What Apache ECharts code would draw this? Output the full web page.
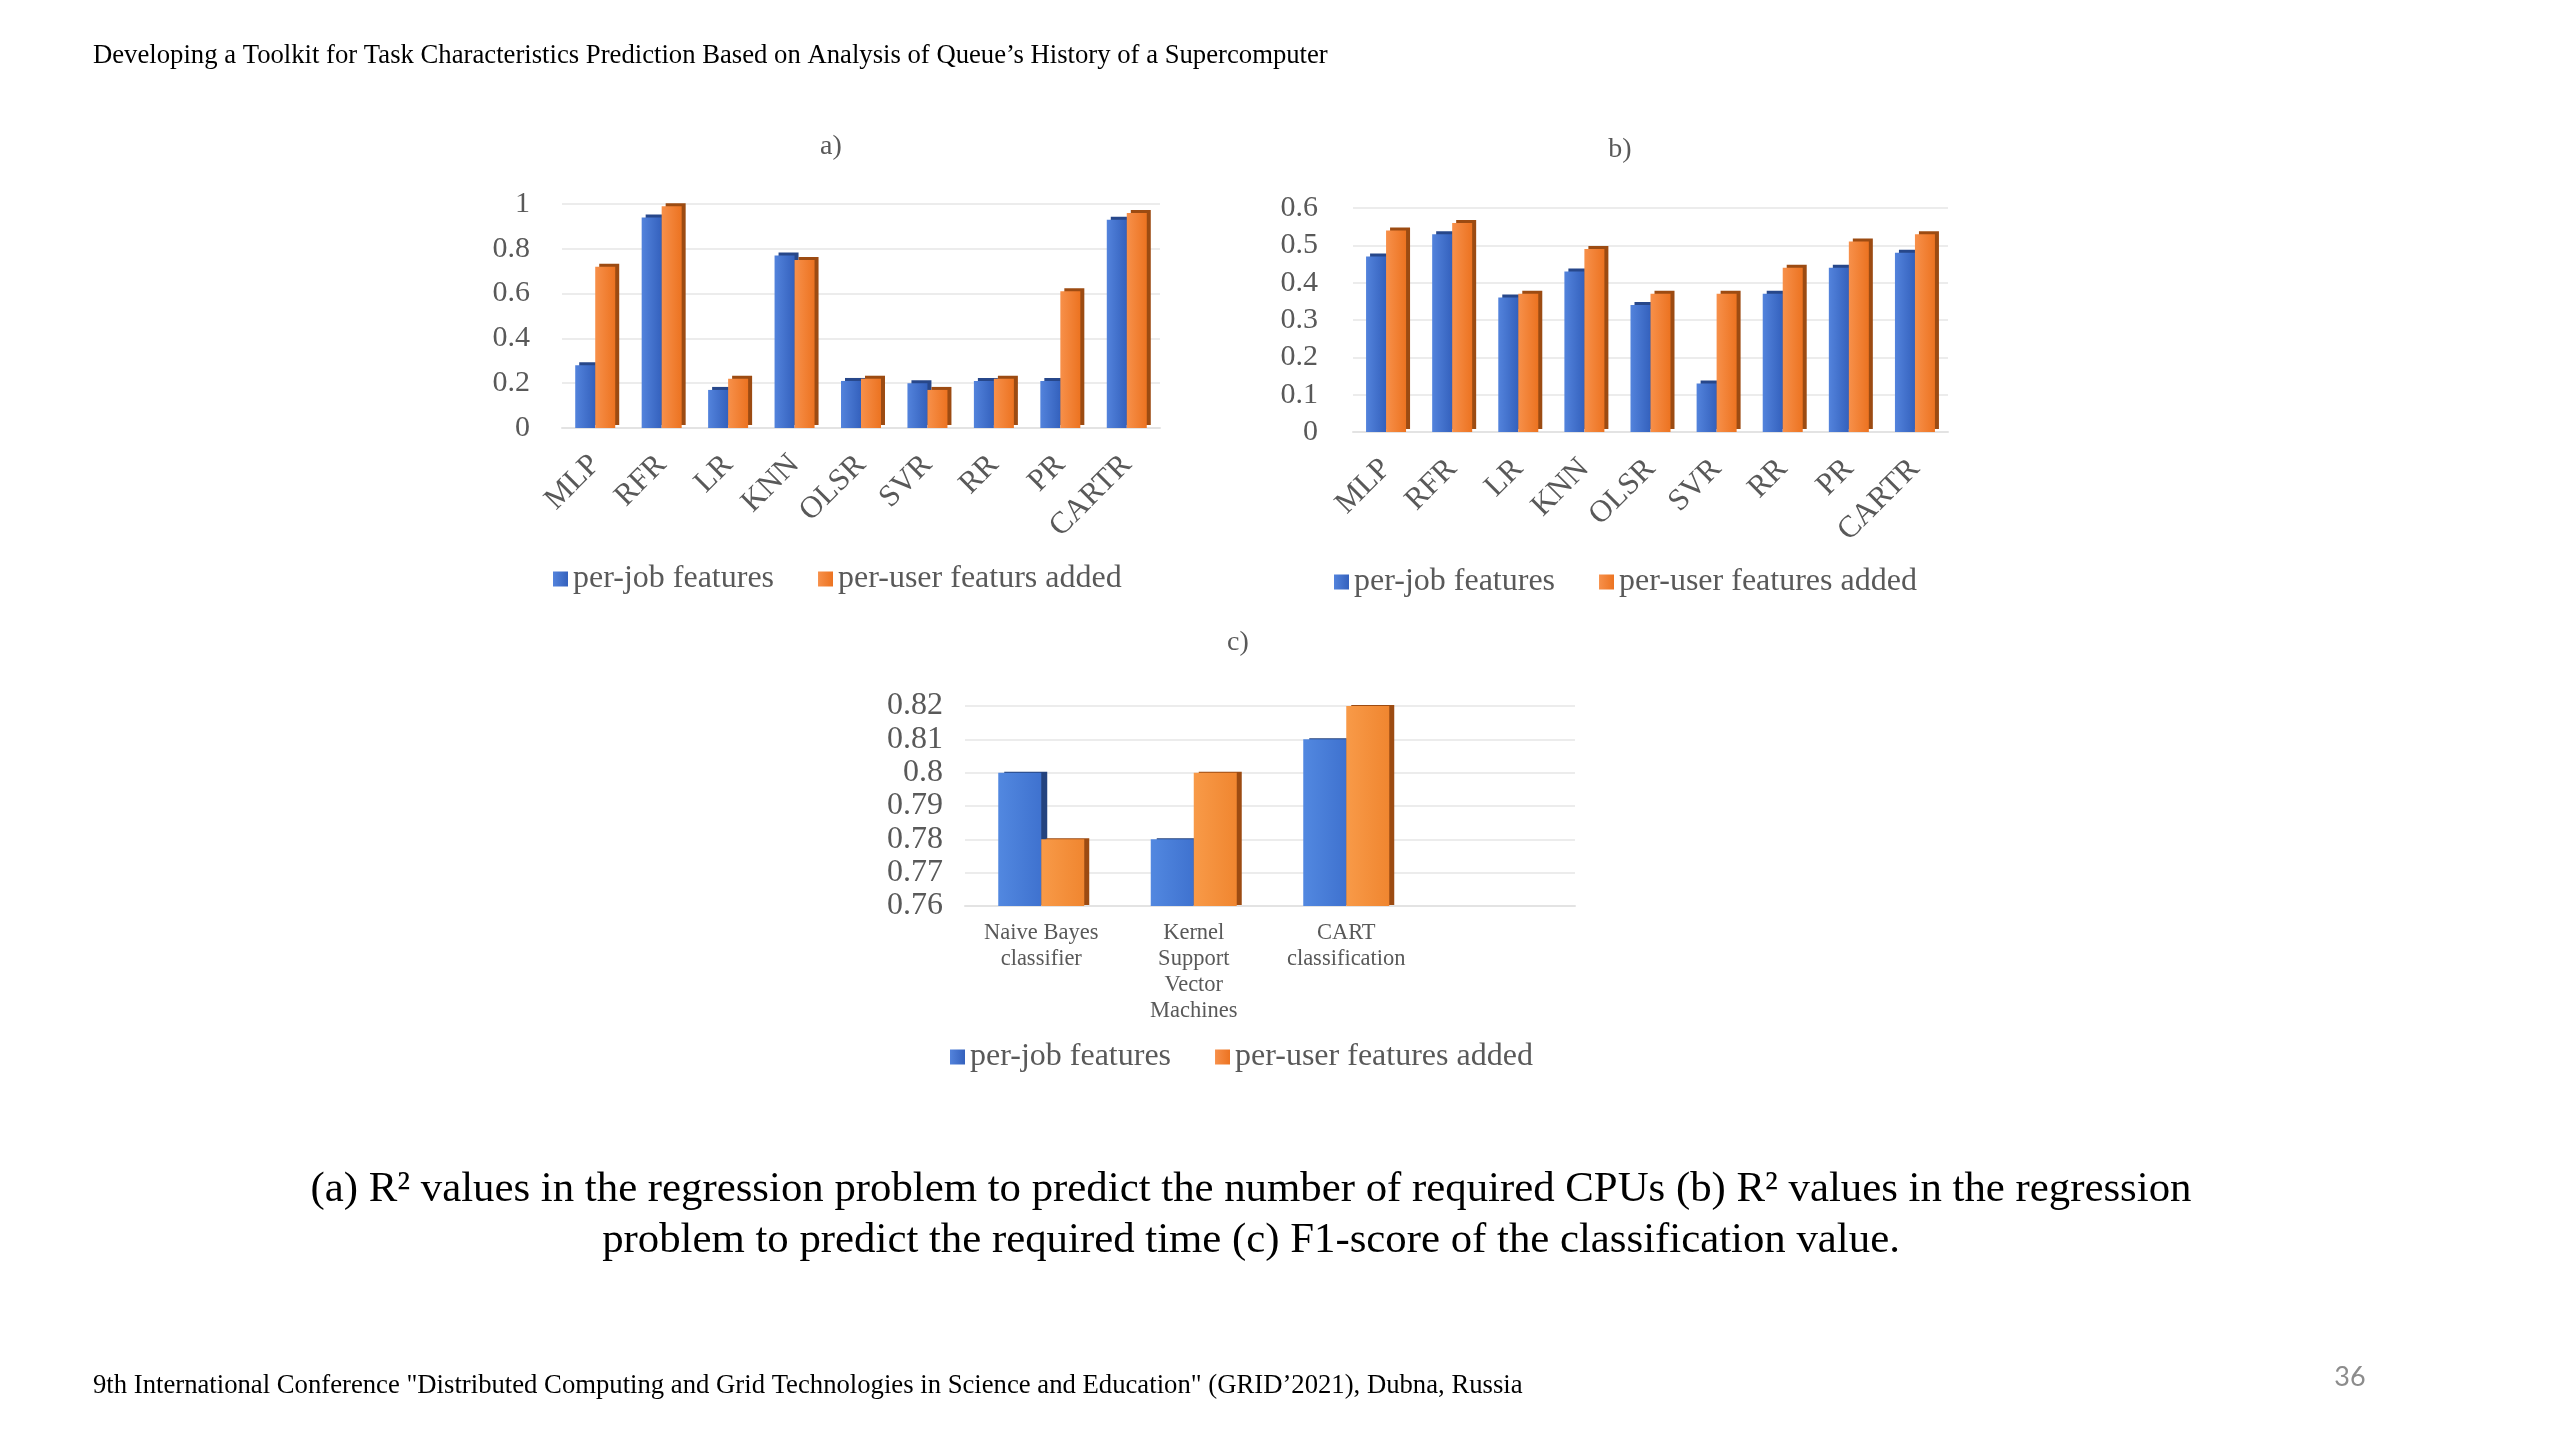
<!DOCTYPE html>
<html>
<head>
<meta charset="utf-8">
<script src="https://cdn.jsdelivr.net/npm/echarts@6/dist/echarts.min.js"></script>
<style>html,body{margin:0;padding:0;background:#fff;}#c{width:2560px;height:1440px;}</style>
</head>
<body>
<div id="c"></div>
<script>
// ---- data ----
const regCategories = ['MLP', 'RFR', 'LR', 'KNN', 'OLSR', 'SVR', 'RR', 'PR', 'CARTR'];
const cpuPerJob  = [0.28, 0.94, 0.17, 0.77, 0.21, 0.20, 0.21, 0.21, 0.93];
const cpuPerUser = [0.72, 0.99, 0.22, 0.75, 0.22, 0.17, 0.22, 0.61, 0.96];
const timePerJob  = [0.47, 0.53, 0.36, 0.43, 0.34, 0.13, 0.37, 0.44, 0.48];
const timePerUser = [0.54, 0.56, 0.37, 0.49, 0.37, 0.37, 0.44, 0.51, 0.53];
const clsCategories = ['Naive Bayes\nclassifier', 'Kernel\nSupport\nVector\nMachines', 'CART\nclassification', ''];
const clsPerJob  = [0.80, 0.78, 0.81, null];
const clsPerUser = [0.78, 0.80, 0.82, null];
const nameJob = 'per-job features';
const nameUserA = 'per-user featurs added';
const nameUser = 'per-user features added';

const serif = '"Liberation Serif", "Times New Roman", serif';
const gray = '#595959';
const chart = echarts.init(document.getElementById('c'));

function grad(c1, c2) {
  return new echarts.graphic.LinearGradient(0, 0, 1, 0, [{offset: 0, color: c1}, {offset: 1, color: c2}]);
}
const blueStyle = {color: grad('#5383dc', '#3461bd'), shadowColor: '#27478a', shadowOffsetX: 4, shadowOffsetY: -3, shadowBlur: 0};
const orangeStyle = {color: grad('#f7904a', '#ec7321'), shadowColor: '#9c4b12', shadowOffsetX: 4, shadowOffsetY: -3, shadowBlur: 0};
const blueFlat = {color: grad('#5288e0', '#3f72cf'), shadowColor: '#24437e', shadowOffsetX: 6, shadowOffsetY: -1, shadowBlur: 0};
const orangeFlat = {color: grad('#f89a48', '#f08630'), shadowColor: '#9c4b12', shadowOffsetX: 5, shadowOffsetY: -1, shadowBlur: 0};

function valAxis(gi, min, max, interval, margin, fs) {
  return {
    type: 'value', gridIndex: gi, min: min, max: max, interval: interval,
    axisLine: {show: false}, axisTick: {show: false},
    splitLine: {lineStyle: {color: '#ececec', width: 2}},
    axisLabel: {color: gray, fontFamily: serif, fontSize: fs, margin: margin}
  };
}
function catAxis(gi, data, rotate, fontSize, margin) {
  return {
    type: 'category', gridIndex: gi, data: data,
    axisLine: {lineStyle: {color: '#e3e3e3', width: 2}}, axisTick: {show: false},
    axisLabel: {color: gray, fontFamily: serif, fontSize: fontSize, rotate: rotate, margin: margin, interval: 0, lineHeight: 26}
  };
}
function legend(x, y, names) {
  return {
    left: x, top: y, itemWidth: 15, itemHeight: 15, itemGap: 44, icon: 'rect', data: names,
    textStyle: {color: gray, fontFamily: serif, fontSize: 32, padding: [0, 0, 0, 0]}
  };
}
function txt(x, y, text, size, align, color, family) {
  return {type: 'text', x: x, y: y, style: {text: text, fill: color || '#000', font: size + 'px ' + (family || serif),
    textAlign: align || 'left', align: align || 'left', textVerticalAlign: 'middle', verticalAlign: 'middle'}};
}

chart.setOption({
  animation: false,
  grid: [
    {left: 562, width: 598, top: 204, height: 224},
    {left: 1353, width: 595, top: 208, height: 224},
    {left: 965, width: 610, top: 706, height: 200}
  ],
  xAxis: [
    catAxis(0, regCategories, 45, 31, 32),
    catAxis(1, regCategories, 45, 31, 32),
    catAxis(2, clsCategories, 0, 22.5, 14)
  ],
  yAxis: [
    valAxis(0, 0, 1, 0.2, 32, 30),
    valAxis(1, 0, 0.6, 0.1, 35, 30),
    valAxis(2, 0.76, 0.82, 0.01, 22, 32)
  ],
  legend: [
    legend(548, 558, [nameJob, nameUserA]),
    legend(1329, 561, [nameJob, nameUser]),
    legend(945, 1036, [nameJob, nameUser])
  ],
  series: [
    {type: 'bar', name: nameJob, xAxisIndex: 0, yAxisIndex: 0, data: cpuPerJob, barWidth: 20, barGap: '0%', itemStyle: blueStyle},
    {type: 'bar', name: nameUserA, xAxisIndex: 0, yAxisIndex: 0, data: cpuPerUser, barWidth: 20, barGap: '0%', itemStyle: orangeStyle},
    {type: 'bar', name: nameJob, xAxisIndex: 1, yAxisIndex: 1, data: timePerJob, barWidth: 20, barGap: '0%', itemStyle: blueStyle},
    {type: 'bar', name: nameUser, xAxisIndex: 1, yAxisIndex: 1, data: timePerUser, barWidth: 20, barGap: '0%', itemStyle: orangeStyle},
    {type: 'bar', name: nameJob, xAxisIndex: 2, yAxisIndex: 2, data: clsPerJob, barWidth: 43, barGap: '0%', itemStyle: blueFlat},
    {type: 'bar', name: nameUser, xAxisIndex: 2, yAxisIndex: 2, data: clsPerUser, barWidth: 43, barGap: '0%', itemStyle: orangeFlat}
  ],
  graphic: [
    txt(93, 56, 'Developing a Toolkit for Task Characteristics Prediction Based on Analysis of Queue\u2019s History of a Supercomputer', 26.7),
    txt(831, 147, 'a)', 28, 'center', gray),
    txt(1620, 150, 'b)', 28, 'center', gray),
    txt(1238, 643, 'c)', 28, 'center', gray),
    txt(1251, 1190, '(a) R\u00b2 values in the regression problem to predict the number of required CPUs (b) R\u00b2 values in the regression', 42.8, 'center'),
    txt(1251, 1241, 'problem to predict the required time (c) F1-score of the classification value.', 42.8, 'center'),
    txt(93, 1386, '9th International Conference "Distributed Computing and Grid Technologies in Science and Education" (GRID\u20192021), Dubna, Russia', 26.7),
    txt(2350, 1377, '36', 27, 'center', '#8c8c8c', 'Lato, sans-serif')
  ]
});
</script>
</body>
</html>
